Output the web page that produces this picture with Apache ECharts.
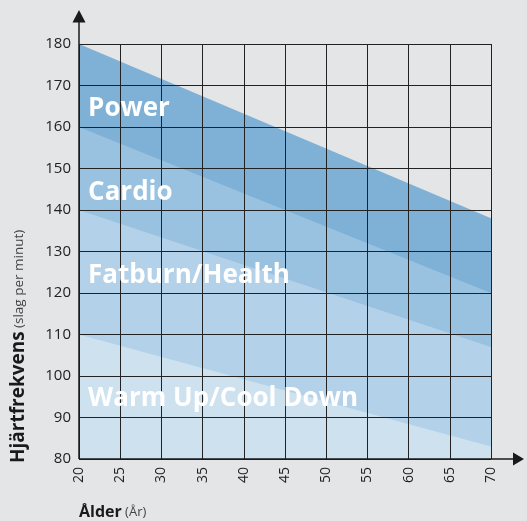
<!DOCTYPE html>
<html><head><meta charset="utf-8">
<script src="https://cdn.jsdelivr.net/npm/echarts@6/dist/echarts.min.js"></script>
<style>html,body{margin:0;padding:0;background:#e4e5e7;}#c{width:527px;height:521px;}</style>
</head><body><div id="c"></div>
<script>
// Data
const ages = [20, 70];
const powerTop = [180, 138];
const cardioTop = [160, 120];
const fatburnTop = [140, 107];
const warmTop = [110, 83];
const zoneNames = ['Power', 'Cardio', 'Fatburn/Health', 'Warm Up/Cool Down'];
const xTicks = [20, 25, 30, 35, 40, 45, 50, 55, 60, 65, 70];
const yTicks = [80, 90, 100, 110, 120, 130, 140, 150, 160, 170, 180];

const zoneTops = [powerTop, cardioTop, fatburnTop, warmTop];
const zoneColors = ['#7fb0d6', '#99c1e0', '#b3d1e8', '#cde1ef'];
const FONT = '"Open Sans", "DejaVu Sans", sans-serif';

const chart = echarts.init(document.getElementById('c'), null, {renderer: 'canvas'});
const series = zoneTops.map((top, i) => ({
  type: 'line',
  name: zoneNames[i],
  data: ages.map((a, j) => [a, top[j]]),
  showSymbol: false,
  symbol: 'none',
  lineStyle: {width: 0},
  areaStyle: {color: zoneColors[i], opacity: 1, origin: 'start'},
  z: 2 + i,
  silent: true,
  animation: false
}));

chart.setOption({
  backgroundColor: '#e4e5e7',
  animation: false,
  grid: {left: 79, right: 36, top: 44, bottom: 62, containLabel: false},
  xAxis: {
    type: 'value', min: xTicks[0], max: xTicks[xTicks.length - 1], interval: 5, z: 10,
    axisLine: {show: false}, axisTick: {show: false},
    splitLine: {show: true, lineStyle: {color: '#222', width: 1}},
    axisLabel: {rotate: 90, margin: 8, color: '#222', fontSize: 14, fontFamily: FONT,
      showMinLabel: true, showMaxLabel: true}
  },
  yAxis: {
    type: 'value', min: yTicks[0], max: yTicks[yTicks.length - 1], interval: 10, z: 10,
    axisLine: {show: false}, axisTick: {show: false},
    splitLine: {show: true, lineStyle: {color: '#222', width: 1}},
    axisLabel: {margin: 8, color: '#222', fontSize: 15, fontFamily: FONT,
      showMinLabel: true, showMaxLabel: true}
  },
  series: series
});

// Layout of overlays
const p0 = chart.convertToPixel({gridIndex: 0}, [xTicks[0], yTicks[0]]);
const labelAnchors = [[21.1, 164.5], [21.1, 144.3], [21.1, 124.3], [21.1, 94.5]];
const graphics = [];
// axis lines with arrows
graphics.push({type: 'line', z: 20, shape: {x1: p0[0], y1: p0[1], x2: 513, y2: p0[1]}, style: {stroke: '#1a1a1a', lineWidth: 1.5}});
graphics.push({type: 'polygon', z: 20, shape: {points: [[513, p0[1] - 6.5], [524, p0[1]], [513, p0[1] + 6.5]]}, style: {fill: '#1a1a1a'}});
graphics.push({type: 'line', z: 20, shape: {x1: p0[0], y1: p0[1], x2: p0[0], y2: 22}, style: {stroke: '#1a1a1a', lineWidth: 1.5}});
graphics.push({type: 'polygon', z: 20, shape: {points: [[p0[0] - 6.5, 22.5], [p0[0], 10], [p0[0] + 6.5, 22.5]]}, style: {fill: '#1a1a1a'}});
// zone labels
zoneNames.forEach((n, i) => {
  const p = chart.convertToPixel({gridIndex: 0}, labelAnchors[i]);
  graphics.push({type: 'text', z: 30, x: p[0], y: p[1],
    style: {text: n, fill: '#ffffff', font: 'bold 26px ' + FONT, textAlign: 'left', textVerticalAlign: 'middle'}});
});
// y axis name
graphics.push({type: 'text', z: 30, x: 19, y: 463, rotation: Math.PI / 2,
  style: {rich: {b: {font: 'bold 19px ' + FONT, fill: '#1a1a1a'}, s: {font: '13.5px ' + FONT, fill: '#444'}},
    text: '{b|Hjärtfrekvens} {s|(slag per minut)}', textAlign: 'left', textVerticalAlign: 'middle'}});
// x axis name
graphics.push({type: 'text', z: 30, x: 79, y: 512,
  style: {rich: {b: {font: 'bold 16px ' + FONT, fill: '#1a1a1a'}, s: {font: '13px ' + FONT, fill: '#444'}},
    text: '{b|Ålder} {s|(År)}', textAlign: 'left', textVerticalAlign: 'middle'}});
chart.setOption({graphic: graphics});
</script></body></html>
